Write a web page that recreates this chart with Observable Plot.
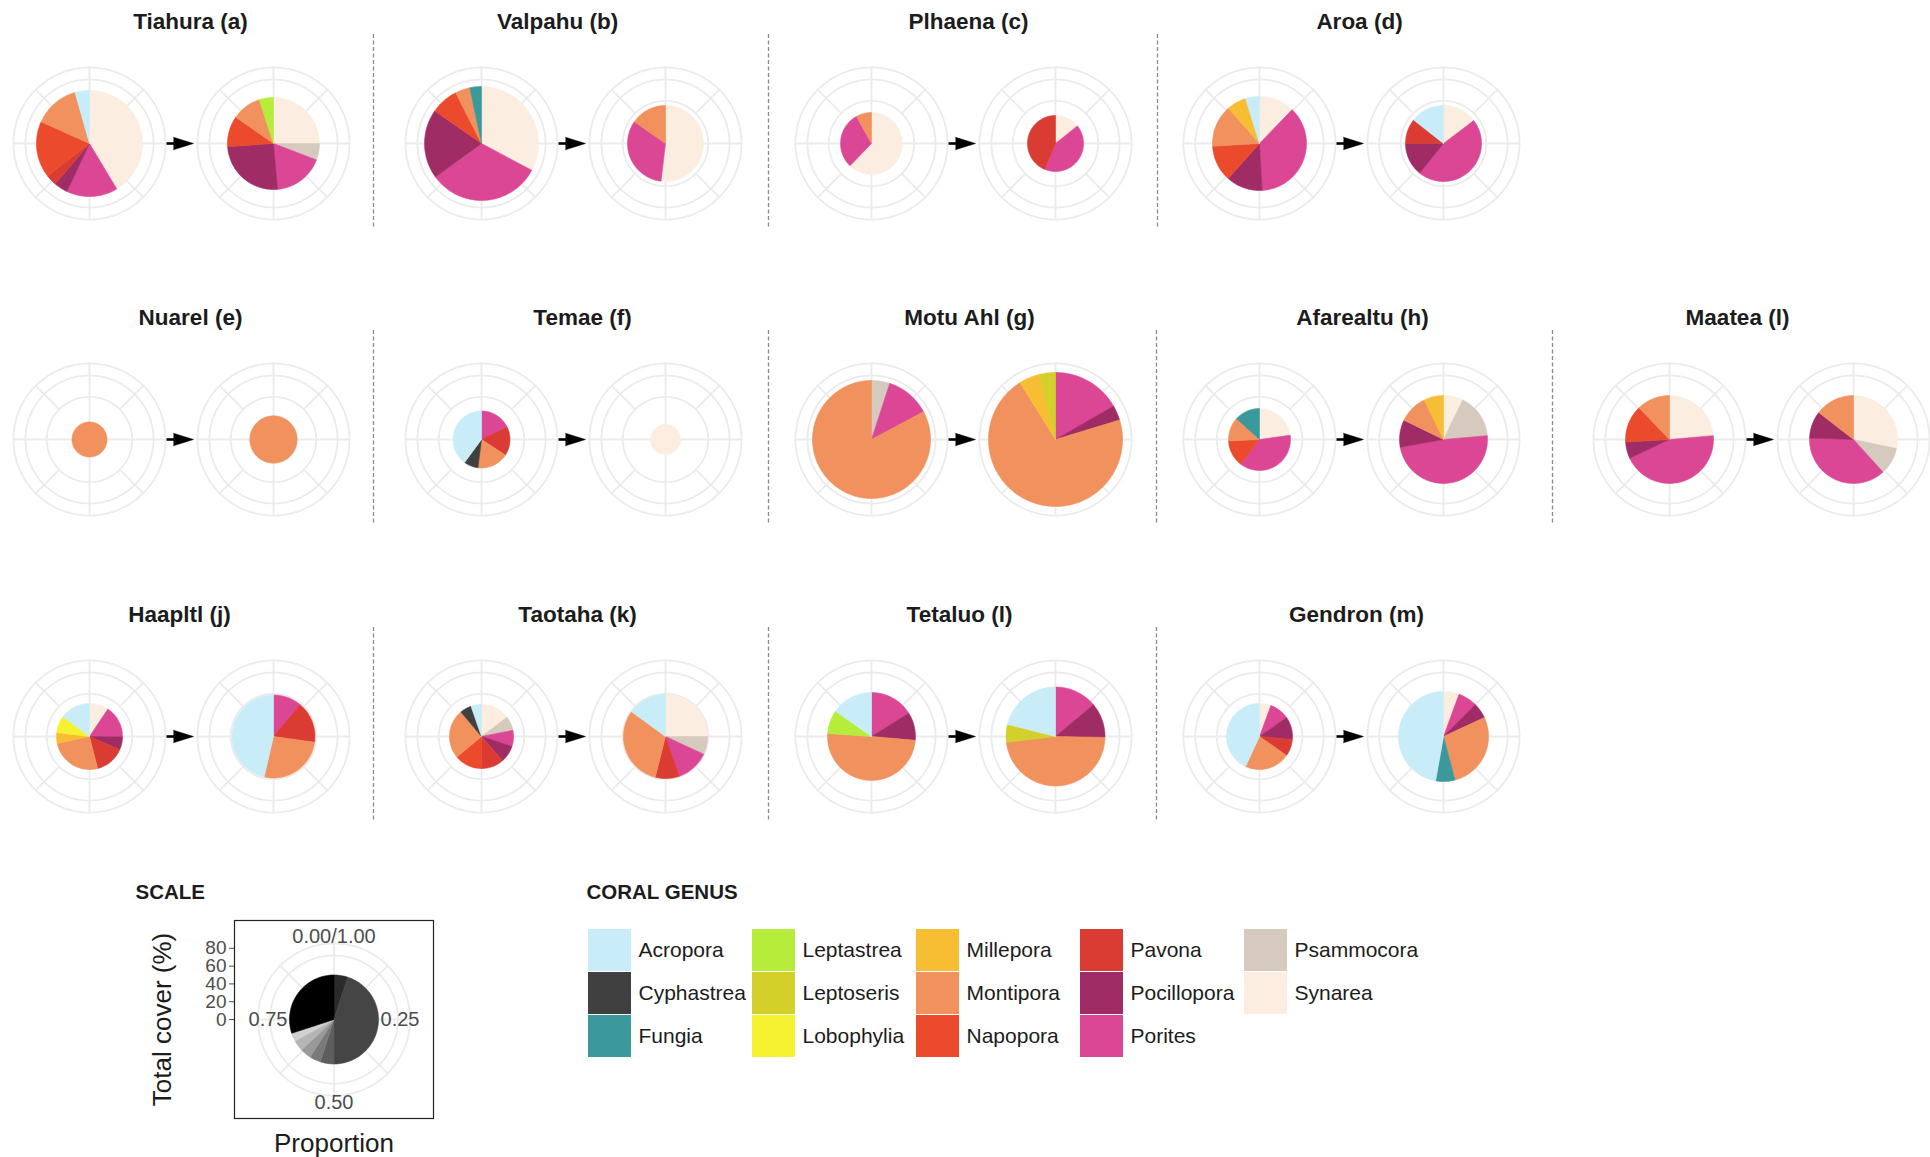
<!DOCTYPE html>
<html>
<head>
<meta charset="utf-8">
<script src="https://cdn.jsdelivr.net/npm/d3@7"></script>
<script src="https://cdn.jsdelivr.net/npm/@observablehq/plot@0.6"></script>
<style>
html,body{margin:0;padding:0;background:#fff;}
#root{position:relative;width:1930px;height:1157px;overflow:hidden;background:#fff;font-family:"Liberation Sans",Arial,Helvetica,sans-serif;}
#root svg{position:absolute;}
</style>
</head>
<body>
<div id="root"></div>
<script>
// ---------------- DATA ----------------
const genera = ["Acropora","Cyphastrea","Fungia","Leptastrea","Leptoseris","Lobophylia","Millepora",
  "Montipora","Napopora","Pavona","Pocillopora","Porites","Psammocora","Synarea"];
const genusColors = ["#c8edf8","#404040","#3b999b","#b6ec3a","#d3cf2b","#f7f230","#f7be34",
  "#f0915e","#eb4a2c","#da3b33","#a02c66","#db4795","#d6c9bd","#fbeee0"];
const sites = ["Tiahura (a)","Valpahu (b)","Plhaena (c)","Aroa (d)",
  "Nuarel (e)","Temae (f)","Motu Ahl (g)","Afarealtu (h)","Maatea (l)",
  "Haapltl (j)","Taotaha (k)","Tetaluo (l)","Gendron (m)"];
const periods = ["before","after"];
// total coral cover (%) -> pie radius
const coverBefore = [59.6, 64.0, 34.8, 52.8, 19.7, 32.0, 66.3, 34.8, 49.4, 37.1, 36.0, 49.4, 37.1];
const coverAfter  = [51.7, 42.7, 31.5, 42.7, 26.6, 16.9, 75.3, 49.4, 49.4, 46.6, 47.2, 55.6, 50.6];
// composition (% of pie), clockwise from 12 o'clock
const tiahuraBefore  = [["Synarea",41.4],["Porites",15.6],["Pocillopora",4.2],["Pavona",3.3],["Napopora",17.2],["Montipora",13.9],["Acropora",4.4]];
const tiahuraAfter   = [["Synarea",25],["Psammocora",5.8],["Porites",17.8],["Pocillopora",25.3],["Napopora",10.8],["Montipora",10.3],["Leptastrea",5]];
const valpahuBefore  = [["Synarea",32.8],["Porites",32.2],["Pocillopora",19.7],["Napopora",7.8],["Montipora",4.2],["Fungia",3.3]];
const valpahuAfter   = [["Synarea",51.9],["Porites",32.8],["Montipora",15.3]];
const plhaenaBefore  = [["Synarea",62.2],["Porites",29.7],["Montipora",8.1]];
const plhaenaAfter   = [["Synarea",14.2],["Porites",42.2],["Pavona",43.6]];
const aroaBefore     = [["Synarea",12.2],["Porites",36.9],["Pocillopora",12.5],["Napopora",12.5],["Montipora",14.4],["Millepora",6.7],["Acropora",4.8]];
const aroaAfter      = [["Synarea",14.7],["Porites",46.1],["Pocillopora",14.2],["Pavona",10.6],["Acropora",14.4]];
const nuarelBefore   = [["Montipora",100]];
const nuarelAfter    = [["Montipora",100]];
const temaeBefore    = [["Porites",17.8],["Pavona",16.4],["Montipora",17.8],["Cyphastrea",8.1],["Acropora",39.9]];
const temaeAfter     = [["Synarea",100]];
const motuAhlBefore  = [["Psammocora",5],["Porites",12.2],["Montipora",82.8]];
const motuAhlAfter   = [["Porites",16.7],["Pocillopora",3.6],["Montipora",70.8],["Millepora",5],["Leptoseris",3.9]];
const afarealtuBefore= [["Synarea",22.8],["Porites",37.5],["Napopora",13.9],["Montipora",12.5],["Fungia",13.3]];
const afarealtuAfter = [["Synarea",7.2],["Psammocora",16.4],["Porites",48.6],["Pocillopora",10],["Montipora",10.6],["Millepora",7.2]];
const maateaBefore   = [["Synarea",23.6],["Porites",44.4],["Pocillopora",6.1],["Napopora",13.7],["Montipora",12.2]];
const maateaAfter    = [["Synarea",28.3],["Psammocora",10],["Porites",37.2],["Pocillopora",10],["Montipora",14.5]];
const haapitiBefore  = [["Synarea",9.4],["Porites",15.8],["Pocillopora",6.4],["Pavona",14.4],["Montipora",25.6],["Millepora",5.3],["Lobophylia",8.3],["Acropora",14.8]];
const haapitiAfter   = [["Porites",11.1],["Pavona",16.1],["Montipora",26.4],["Acropora",46.4]];
const taotahaBefore  = [["Synarea",14.7],["Psammocora",7.2],["Porites",8.1],["Pocillopora",8.6],["Pavona",11.4],["Napopora",13.9],["Montipora",25],["Cyphastrea",5.8],["Acropora",5.3]];
const taotahaAfter   = [["Synarea",25],["Psammocora",6.9],["Porites",12.8],["Pavona",9.2],["Montipora",31.1],["Acropora",15]];
const tetaluoBefore  = [["Porites",16.1],["Pocillopora",10.3],["Montipora",49.7],["Leptastrea",8.6],["Acropora",15.3]];
const tetaluoAfter   = [["Porites",13.9],["Pocillopora",11.4],["Montipora",47.8],["Leptoseris",5.8],["Acropora",21.1]];
const gendronBefore  = [["Synarea",5.6],["Porites",9.7],["Pocillopora",11.1],["Pavona",8.3],["Montipora",22.2],["Acropora",43.1]];
const gendronAfter   = [["Synarea",5.6],["Porites",6.9],["Pocillopora",5.6],["Montipora",27.8],["Fungia",6.9],["Acropora",47.2]];
const compBefore = [tiahuraBefore,valpahuBefore,plhaenaBefore,aroaBefore,nuarelBefore,temaeBefore,motuAhlBefore,
  afarealtuBefore,maateaBefore,haapitiBefore,taotahaBefore,tetaluoBefore,gendronBefore];
const compAfter = [tiahuraAfter,valpahuAfter,plhaenaAfter,aroaAfter,nuarelAfter,temaeAfter,motuAhlAfter,
  afarealtuAfter,maateaAfter,haapitiAfter,taotahaAfter,tetaluoAfter,gendronAfter];
// radial grid breaks (% cover) and theta labels / scale legend
const ringBreaks = [48, 72];
const outerRing = 85.5;
const coverTicks = [0, 20, 40, 60, 80];
const thetaLabels = ["0.00/1.00", "0.25", "0.50", "0.75"];
const scaleCover = 50;
const scaleSlices = [["#2b2b2b",5],["#454545",45],["#5e5e5e",5],["#7a7a7a",4],["#999999",4],["#b5b5b5",4],["#d0d0d0",3],["#000000",30]];

// ---------------- LAYOUT ----------------
const siteOriginX = [0,392,782,1170, 0,392,782,1170,1580, 0,392,782,1170];
const siteRow     = [0,0,0,0, 1,1,1,1,1, 2,2,2,2];
const siteCol     = [0,1,2,3, 0,1,2,3,4, 0,1,2,3];
const rowTop = [0, 296, 593];
const titleDx = [101,76,97,100, 101,101,98,103,68, 90,96,88,97];
const sepDx   = [0,-108,-103,-102, 0,-108,-103,-103,-117, 0,-108,-103,-103];
const HALF = 103.4;            // half panel size in % units (92 px)
const PX = HALF / 92;          // % units per pixel
const ML = 30;                 // left margin of each site plot (px)
const gridColor = "#ebebeb";
const font = "'Liberation Sans', Arial, Helvetica, sans-serif";

const root = document.getElementById("root");
const polar = (r, a) => [r * Math.sin(a * Math.PI / 180), r * Math.cos(a * Math.PI / 180)];

function wedgeRows(comp, cover, period, key) {
  const total = d3.sum(comp, d => d[1]);
  const rows = [];
  let acc = 0;
  comp.forEach(([g, v], j) => {
    const a0 = acc / total * 360, a1 = (acc + v) / total * 360;
    const id = `${key}-${period}-${j}`;
    const n = Math.max(2, Math.ceil((a1 - a0) / 2));
    rows.push({period, genus: g, id, x: 0, y: 0});
    for (let s = 0; s <= n; s++) {
      const [x, y] = polar(cover, a0 + (a1 - a0) * s / n);
      rows.push({period, genus: g, id, x, y});
    }
    rows.push({period, genus: g, id, x: 0, y: 0});
    acc += v;
  });
  return rows;
}
function ringRows(periodList) {
  const rows = [];
  for (const period of periodList)
    for (const r of [...ringBreaks, outerRing])
      for (let a = 0; a <= 360; a += 3) {
        const [x, y] = polar(r, a);
        rows.push({period, ring: r, x, y});
      }
  return rows;
}
function spokeRows(periodList) {
  const rows = [];
  for (const period of periodList)
    for (let a = 0; a < 360; a += 45) {
      const r1 = a % 90 === 0 ? 0 : ringBreaks[0];
      const [x1, y1] = polar(r1, a), [x2, y2] = polar(outerRing, a);
      rows.push({period, x1, y1, x2, y2});
    }
  return rows;
}

function sitePlot(i) {
  const wedges = [
    ...wedgeRows(compBefore[i], coverBefore[i], "before", i),
    ...wedgeRows(compAfter[i], coverAfter[i], "after", i)
  ];
  const head = [[84, 6.2], [104, 0], [84, -6.2]].map(([x, y]) => ({period: "before", x: x * PX, y: y * PX}));
  const marks = [
    Plot.line(ringRows(periods), {fx: "period", x: "x", y: "y", z: "ring", stroke: gridColor, strokeWidth: 1.8}),
    Plot.link(spokeRows(periods), {fx: "period", x1: "x1", y1: "y1", x2: "x2", y2: "y2", stroke: gridColor, strokeWidth: 1.8}),
    Plot.line(wedges, {fx: "period", x: "x", y: "y", z: "id", fill: "genus", stroke: "genus", strokeWidth: 0.6, curve: "linear"}),
    Plot.link([{period: "before"}], {fx: "period", x1: 77 * PX, x2: 88 * PX, y1: 0, y2: 0, stroke: "#000", strokeWidth: 2.6}),
    Plot.line(head, {fx: "period", x: "x", y: "y", fill: "#000", stroke: "#000", strokeWidth: 0.5}),
    Plot.text([{period: "before", label: sites[i]}], {fx: "period", x: titleDx[i] * PX, y: 122 * PX, text: "label",
      fontSize: 22.5, fontWeight: "bold", fill: "#1c1c1c"})
  ];
  if (siteCol[i] > 0) {
    marks.push(Plot.ruleX([{period: "before"}], {fx: "period", x: sepDx[i] * PX, y1: 109 * PX, y2: -86 * PX,
      stroke: "#8a8a8a", strokeWidth: 1.3, strokeDasharray: "4,2.5"}));
  }
  const svg = Plot.plot({
    width: ML + 368, height: 235,
    marginLeft: ML, marginRight: 0, marginTop: 51, marginBottom: 0,
    fx: {domain: periods, padding: 0, axis: null},
    x: {domain: [-HALF, HALF], axis: null},
    y: {domain: [-HALF, HALF], axis: null},
    color: {domain: genera, range: genusColors},
    style: {background: "transparent", fontFamily: font, overflow: "visible"},
    marks
  });
  svg.style.left = (siteOriginX[i] - 3 - ML) + "px";
  svg.style.top = rowTop[siteRow[i]] + "px";
  root.appendChild(svg);
}
sites.forEach((_, i) => sitePlot(i));

// ---------------- SCALE LEGEND ----------------
(function scalePlot() {
  const rows = [];
  const total = d3.sum(scaleSlices, d => d[1]);
  let acc = 0;
  scaleSlices.forEach(([c, v], j) => {
    const a0 = acc / total * 360, a1 = (acc + v) / total * 360;
    const n = Math.max(2, Math.ceil((a1 - a0) / 2));
    rows.push({c, id: j, x: 0, y: 0});
    for (let s = 0; s <= n; s++) { const [x, y] = polar(scaleCover, a0 + (a1 - a0) * s / n); rows.push({c, id: j, x, y}); }
    rows.push({c, id: j, x: 0, y: 0});
    acc += v;
  });
  const lab = thetaLabels.map((t, j) => {
    const a = j * 90;
    const rpx = j % 2 === 0 ? 83 : 66;
    const [x, y] = polar(rpx * PX, a);
    return {t, x, y};
  });
  const svg = Plot.plot({
    width: 450, height: 277,
    marginLeft: 234, marginRight: 17, marginTop: 40, marginBottom: 39,
    x: {domain: [-99.5 * PX, 99.5 * PX], axis: null},
    y: {domain: [-99 * PX, 99 * PX], axis: null},
    color: {type: "identity"},
    style: {background: "transparent", fontFamily: font, overflow: "visible"},
    marks: [
      Plot.line(ringRows(["s"]), {x: "x", y: "y", z: "ring", stroke: gridColor, strokeWidth: 1.8}),
      Plot.link(spokeRows(["s"]), {x1: "x1", y1: "y1", x2: "x2", y2: "y2", stroke: gridColor, strokeWidth: 1.8}),
      Plot.line(rows, {x: "x", y: "y", z: "id", fill: "c", stroke: "c", strokeWidth: 0.6}),
      Plot.text(lab, {x: "x", y: "y", text: "t", fontSize: 20, fill: "#4d4d4d"}),
      Plot.frame({stroke: "#222", strokeWidth: 1.2}),
      Plot.axisY(coverTicks, {anchor: "left", tickSize: 5, tickPadding: 3, fontSize: 19, color: "#4d4d4d", label: null}),
      Plot.text(["Total cover (%)"], {frameAnchor: "left", dx: -72, rotate: -90, fontSize: 26, fill: "#1c1c1c", textAnchor: "middle"}),
      Plot.text(["Proportion"], {frameAnchor: "bottom", dy: 25, fontSize: 26, fill: "#1c1c1c", lineAnchor: "middle"}),
      Plot.text(["SCALE"], {frameAnchor: "top-left", dx: -99, dy: -28, textAnchor: "start", lineAnchor: "middle",
        fontSize: 20.5, fontWeight: "bold", fill: "#1c1c1c"})
    ]
  });
  svg.style.left = "0px";
  svg.style.top = "880px";
  root.appendChild(svg);
})();

// ---------------- GENUS LEGEND ----------------
(function genusLegend() {
  const items = genera.map((g, i) => ({genus: g, col: Math.floor(i / 3), row: i % 3}));
  const svg = Plot.plot({
    width: 800, height: 277,
    margin: 0,
    x: {type: "band", domain: [0, 1, 2, 3, 4], range: [28, 727], paddingInner: 0.738, paddingOuter: 0, axis: null},
    y: {type: "band", domain: [0, 1, 2], range: [48, 177.5], paddingInner: 0.023, paddingOuter: 0, axis: null},
    color: {domain: genera, range: genusColors},
    style: {background: "transparent", fontFamily: font, overflow: "visible"},
    marks: [
      Plot.cell(items, {x: "col", y: "row", fill: "genus"}),
      Plot.text(items, {x: "col", y: "row", text: "genus", dx: 28.5, textAnchor: "start", fontSize: 21, fill: "#1c1c1c"}),
      Plot.text(["CORAL GENUS"], {frameAnchor: "top-left", dx: 26, dy: 12, textAnchor: "start", lineAnchor: "middle",
        fontSize: 20.5, fontWeight: "bold", fill: "#1c1c1c"})
    ]
  });
  svg.style.left = "560px";
  svg.style.top = "880px";
  root.appendChild(svg);
})();
</script>
</body>
</html>
